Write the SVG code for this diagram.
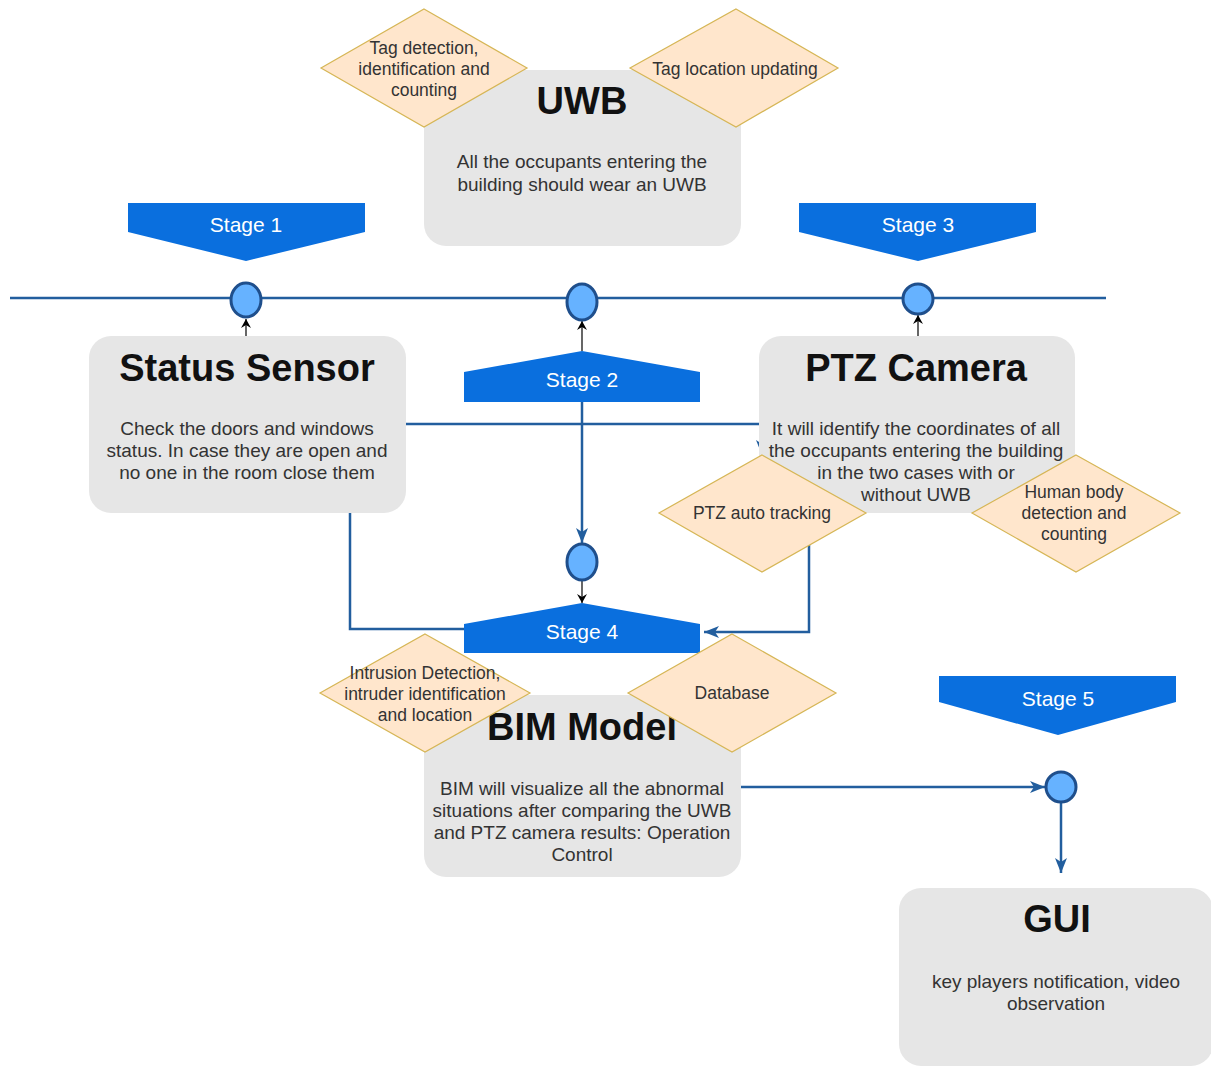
<svg xmlns="http://www.w3.org/2000/svg" width="1211" height="1068" viewBox="0 0 1211 1068">
<style>
  .box { fill: #e6e6e6; stroke: none; }
  .title { font-family: "Liberation Sans", Arial, sans-serif; font-weight: bold; font-size: 38px; fill: #111; text-anchor: middle; }
  .body { font-family: "Liberation Sans", Arial, sans-serif; font-size: 19px; fill: #333; text-anchor: middle; }
  .dia { fill: #ffe6cc; stroke: #d6b656; stroke-width: 1.2; }
  .dtext { font-family: "Liberation Sans", Arial, sans-serif; font-size: 17.5px; fill: #333; text-anchor: middle; }
  .stage { fill: #0a6fde; stroke: none; }
  .stext { font-family: "Liberation Sans", Arial, sans-serif; font-size: 21px; fill: #ffffff; text-anchor: middle; }
  .dot { fill: #66b2ff; stroke: #1f4f8c; stroke-width: 3; }
  .blue { fill: none; stroke: #225e9e; stroke-width: 2.5; }
  .black { fill: none; stroke: #000; stroke-width: 1.2; }
</style>
<defs>
  <marker id="ab" markerUnits="userSpaceOnUse" markerWidth="16" markerHeight="12" refX="15" refY="6" orient="auto">
    <path d="M0,0 L15,6 L0,12 L4,6 Z" fill="#225e9e"/>
  </marker>
  <marker id="ak" markerUnits="userSpaceOnUse" markerWidth="10" markerHeight="10" refX="9" refY="5" orient="auto">
    <path d="M0,0 L9,5 L0,10 L3,5 Z" fill="#000"/>
  </marker>
</defs>
<rect width="1211" height="1068" fill="#ffffff"/>

<g id="connectors">
  <line class="blue" x1="10" y1="298" x2="1106" y2="298" stroke-width="2.2"/>
  <line class="black" x1="246" y1="336" x2="246" y2="319" marker-end="url(#ak)"/>
  <line class="black" x1="918" y1="336" x2="918" y2="315" marker-end="url(#ak)"/>
  <line class="black" x1="582" y1="351" x2="582" y2="321" marker-end="url(#ak)"/>
  <line class="blue" x1="582" y1="380" x2="582" y2="543" marker-end="url(#ab)"/>
  <line class="black" x1="582" y1="581" x2="582" y2="603" marker-end="url(#ak)"/>
  <path class="blue" d="M406 424 H762 V455" marker-end="url(#ab)"/>
  <path class="blue" d="M350 513 V629 H470"/>
  <path class="blue" d="M809 545 V632 H704" marker-end="url(#ab)"/>
  <path class="blue" d="M741 787 H1045" marker-end="url(#ab)"/>
  <path class="blue" d="M1061 802 V873" marker-end="url(#ab)"/>
</g>

<g id="stage1">
  <polygon class="stage" points="128,203 365,203 365,232 246,261 128,232"/>
  <text class="stext" x="246" y="232">Stage 1</text>
</g>
<g id="stage3">
  <polygon class="stage" points="799,203 1036,203 1036,232 918,261 799,232"/>
  <text class="stext" x="918" y="232">Stage 3</text>
</g>
<g id="stage2">
  <polygon class="stage" points="582,351 700,372 700,402 464,402 464,372"/>
  <text class="stext" x="582" y="387">Stage 2</text>
</g>
<g id="stage4">
  <polygon class="stage" points="582,603 700,624 700,653 464,653 464,624"/>
  <text class="stext" x="582" y="639">Stage 4</text>
</g>
<g id="stage5">
  <polygon class="stage" points="939,676 1176,676 1176,702 1058,735 939,702"/>
  <text class="stext" x="1058" y="706">Stage 5</text>
</g>

<g id="dot1"><ellipse class="dot" cx="246" cy="300" rx="15" ry="17"/></g>
<g id="dot2"><ellipse class="dot" cx="582" cy="302" rx="15" ry="18"/></g>
<g id="dot3"><ellipse class="dot" cx="918" cy="299" rx="15" ry="15"/></g>
<g id="dot4"><ellipse class="dot" cx="582" cy="562" rx="15" ry="18"/></g>
<g id="dot5"><ellipse class="dot" cx="1061" cy="787" rx="15" ry="15"/></g>

<g id="uwb">
  <rect class="box" x="424" y="70" width="317" height="176" rx="22"/>
  <text class="title" x="582" y="114">UWB</text>
  <text class="body" x="582" y="168">All the occupants entering the</text>
  <text class="body" x="582" y="191">building should wear an UWB</text>
</g>
<g id="status-sensor">
  <rect class="box" x="89" y="336" width="317" height="177" rx="22"/>
  <text class="title" x="247" y="381">Status Sensor</text>
  <text class="body" x="247" y="435">Check the doors and windows</text>
  <text class="body" x="247" y="457">status. In case they are open and</text>
  <text class="body" x="247" y="479">no one in the room close them</text>
</g>
<g id="ptz-camera">
  <rect class="box" x="759" y="336" width="316" height="177" rx="22"/>
  <text class="title" x="916" y="381">PTZ Camera</text>
</g>
<g id="bim-model">
  <rect class="box" x="424" y="695" width="317" height="182" rx="22"/>
  <text class="title" x="582" y="740">BIM Model</text>
  <text class="body" x="582" y="795">BIM will visualize all the abnormal</text>
  <text class="body" x="582" y="817">situations after comparing the UWB</text>
  <text class="body" x="582" y="839">and PTZ camera results: Operation</text>
  <text class="body" x="582" y="861">Control</text>
</g>
<g id="gui">
  <rect class="box" x="899" y="888" width="314" height="178" rx="22"/>
  <text class="title" x="1057" y="932">GUI</text>
  <text class="body" x="1056" y="988">key players notification, video</text>
  <text class="body" x="1056" y="1010">observation</text>
</g>

<g id="tag-detection">
  <polygon class="dia" points="424,9 527,68 424,127 321,68"/>
  <text class="dtext" x="424" y="54">Tag detection,</text>
  <text class="dtext" x="424" y="75">identification and</text>
  <text class="dtext" x="424" y="96">counting</text>
</g>
<g id="tag-location">
  <polygon class="dia" points="736,9 838,68 736,127 630,68"/>
  <text class="dtext" x="735" y="75">Tag location updating</text>
</g>
<g id="ptz-auto-tracking">
  <polygon class="dia" points="762,455 866,513 762,572 659,513"/>
  <text class="dtext" x="762" y="519">PTZ auto tracking</text>
</g>
<g id="ptz-camera-text">
  <text class="body" x="916" y="435">It will identify the coordinates of all</text>
  <text class="body" x="916" y="457">the occupants entering the building</text>
  <text class="body" x="916" y="479">in the two cases with or</text>
  <text class="body" x="916" y="501">without UWB</text>
</g>
<g id="human-body">
  <polygon class="dia" points="1076,455 1180,513 1076,572 972,513"/>
  <text class="dtext" x="1074" y="498">Human body</text>
  <text class="dtext" x="1074" y="519">detection and</text>
  <text class="dtext" x="1074" y="540">counting</text>
</g>
<g id="intrusion">
  <polygon class="dia" points="425,634 530,693 425,752 320,693"/>
  <text class="dtext" x="425" y="679">Intrusion Detection,</text>
  <text class="dtext" x="425" y="700">intruder identification</text>
  <text class="dtext" x="425" y="721">and location</text>
</g>
<g id="database">
  <polygon class="dia" points="732,634 836,693 732,752 628,693"/>
  <text class="dtext" x="732" y="699">Database</text>
</g>
</svg>
